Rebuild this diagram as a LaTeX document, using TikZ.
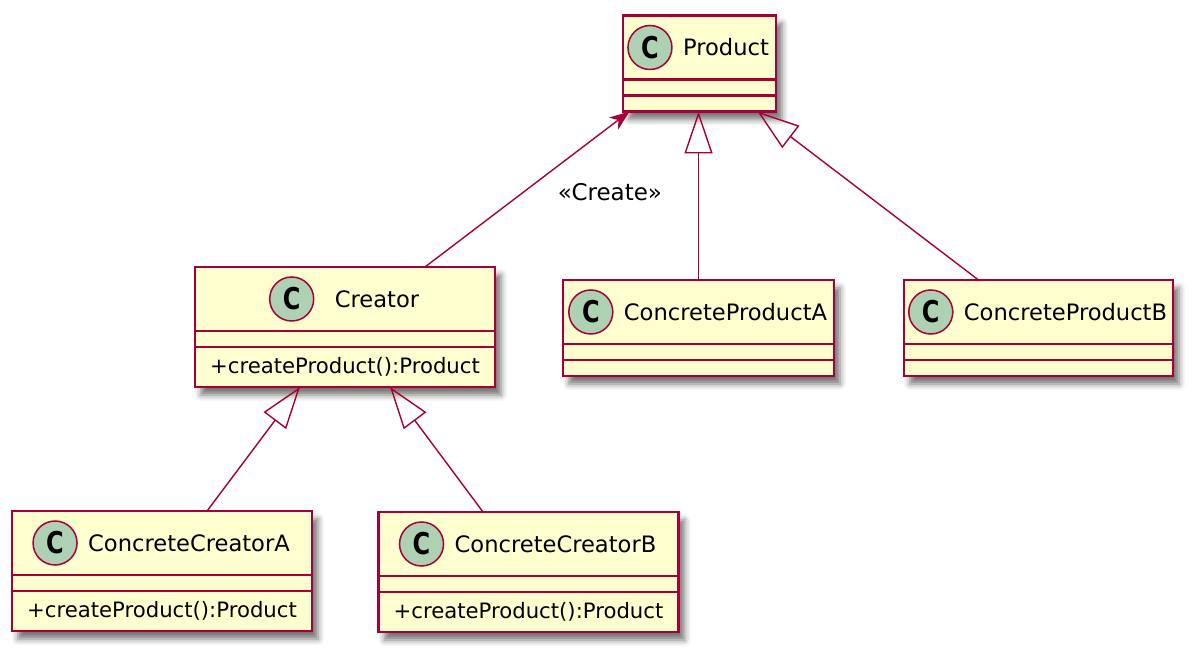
\documentclass[tikz,border=0pt]{standalone}
\usepackage{fontspec}
\setmainfont{DejaVu Sans}
\usepackage{xcolor}
\usetikzlibrary{positioning, arrows.meta, shadows.blur}
\definecolor{umlborder}{HTML}{A80036}
\definecolor{umlfill}{HTML}{FEFECE}
\definecolor{umlbadge}{HTML}{ADD1B2}

\begin{document}
\begin{tikzpicture}[x=0.5pt, y=-0.5pt,
    cls/.style={draw=umlborder, line width=1.3pt, fill=umlfill, inner sep=0pt, outer sep=0pt,
      blur shadow={shadow xshift=3pt, shadow yshift=-4pt, shadow blur radius=3pt, shadow opacity=55},
      path picture={\draw[umlborder, line width=1.2pt]
        ([yshift=-32pt]path picture bounding box.north west) -- ([yshift=-32pt]path picture bounding box.north east)
        ([yshift=-40pt]path picture bounding box.north west) -- ([yshift=-40pt]path picture bounding box.north east);}},
    badge/.style={circle, draw=umlborder, line width=0.75pt, fill=umlbadge, minimum size=22pt, inner sep=0pt,
      font=\fontsize{15}{15}\selectfont\bfseries},
    clsname/.style={inner sep=0pt, font=\fontsize{11.3}{13}\selectfont},
    member/.style={inner sep=0pt, font=\fontsize{10.6}{12}\selectfont},
    stereo/.style={inner sep=0pt, font=\fontsize{11.5}{13}\selectfont},
    inherit/.style={draw=umlborder, line width=0.7pt, -{Triangle[open, length=21pt, width=14pt]}},
    create/.style={draw=umlborder, line width=0.7pt, -{Stealth[length=10pt, width=7.5pt, inset=3pt]}}]
  \useasboundingbox (0,0) rectangle (1193,651);

  % products
  \node[cls, minimum width=76.5pt, minimum height=48pt] (product) at (699.5,63.5) {};
  \node[clsname] (product-t) at ([xshift=13.25pt, yshift=-16pt]product.north) {Product};
  \node[badge, left=5pt of product-t] (product-c) {\scalebox{0.8}[1]{C}};

  \node[cls, minimum width=135.5pt, minimum height=48pt] (cpa) at (698.5,328) {};
  \node[clsname] (cpa-t) at ([xshift=13.5pt, yshift=-16pt]cpa.north) {ConcreteProductA};
  \node[badge, left=5pt of cpa-t] (cpa-c) {\scalebox{0.8}[1]{C}};

  \node[cls, minimum width=134.5pt, minimum height=48pt] (cpb) at (1038.5,328) {};
  \node[clsname] (cpb-t) at ([xshift=13.5pt, yshift=-16pt]cpb.north) {ConcreteProductB};
  \node[badge, left=5pt of cpb-t] (cpb-c) {\scalebox{0.8}[1]{C}};

  % creators
  \node[cls, minimum width=150pt, minimum height=60pt] (creator) at (345,327) {};
  \node[clsname] (creator-t) at ([xshift=16pt, yshift=-16pt]creator.north) {Creator};
  \node[badge, left=10pt of creator-t] (creator-c) {\scalebox{0.8}[1]{C}};
  \node[member] (creator-m) at ([yshift=10pt]creator.south) {+createProduct():Product};

  \node[cls, minimum width=150pt, minimum height=60pt] (cca) at (162,571) {};
  \node[clsname] (cca-t) at ([xshift=13.5pt, yshift=-16pt]cca.north) {ConcreteCreatorA};
  \node[badge, left=5pt of cca-t] (cca-c) {\scalebox{0.8}[1]{C}};
  \node[member] (cca-m) at ([yshift=10pt]cca.south) {+createProduct():Product};

  \node[cls, minimum width=150pt, minimum height=60pt] (ccb) at (528.5,572) {};
  \node[clsname] (ccb-t) at ([xshift=13.5pt, yshift=-16pt]ccb.north) {ConcreteCreatorB};
  \node[badge, left=5pt of ccb-t] (ccb-c) {\scalebox{0.8}[1]{C}};
  \node[member] (ccb-m) at ([yshift=10pt]ccb.south) {+createProduct():Product};

  % relations
  \draw[create] ([xshift=40pt]creator.north) -- node[stereo, pos=0.48, right=17pt] (create-l) {«Create»} ([xshift=-35pt]product.south);
  \draw[inherit] (cpa.north) -- (cpa.north |- product.south);
  \draw[inherit] ([xshift=-30pt]cpb.north) -- ([xshift=29pt]product.south);
  \draw[inherit] ([xshift=22.5pt]cca.north) -- ([xshift=-22.5pt]creator.south);
  \draw[inherit] ([xshift=-22.75pt]ccb.north) -- ([xshift=22.5pt]creator.south);
\end{tikzpicture}
\end{document}
